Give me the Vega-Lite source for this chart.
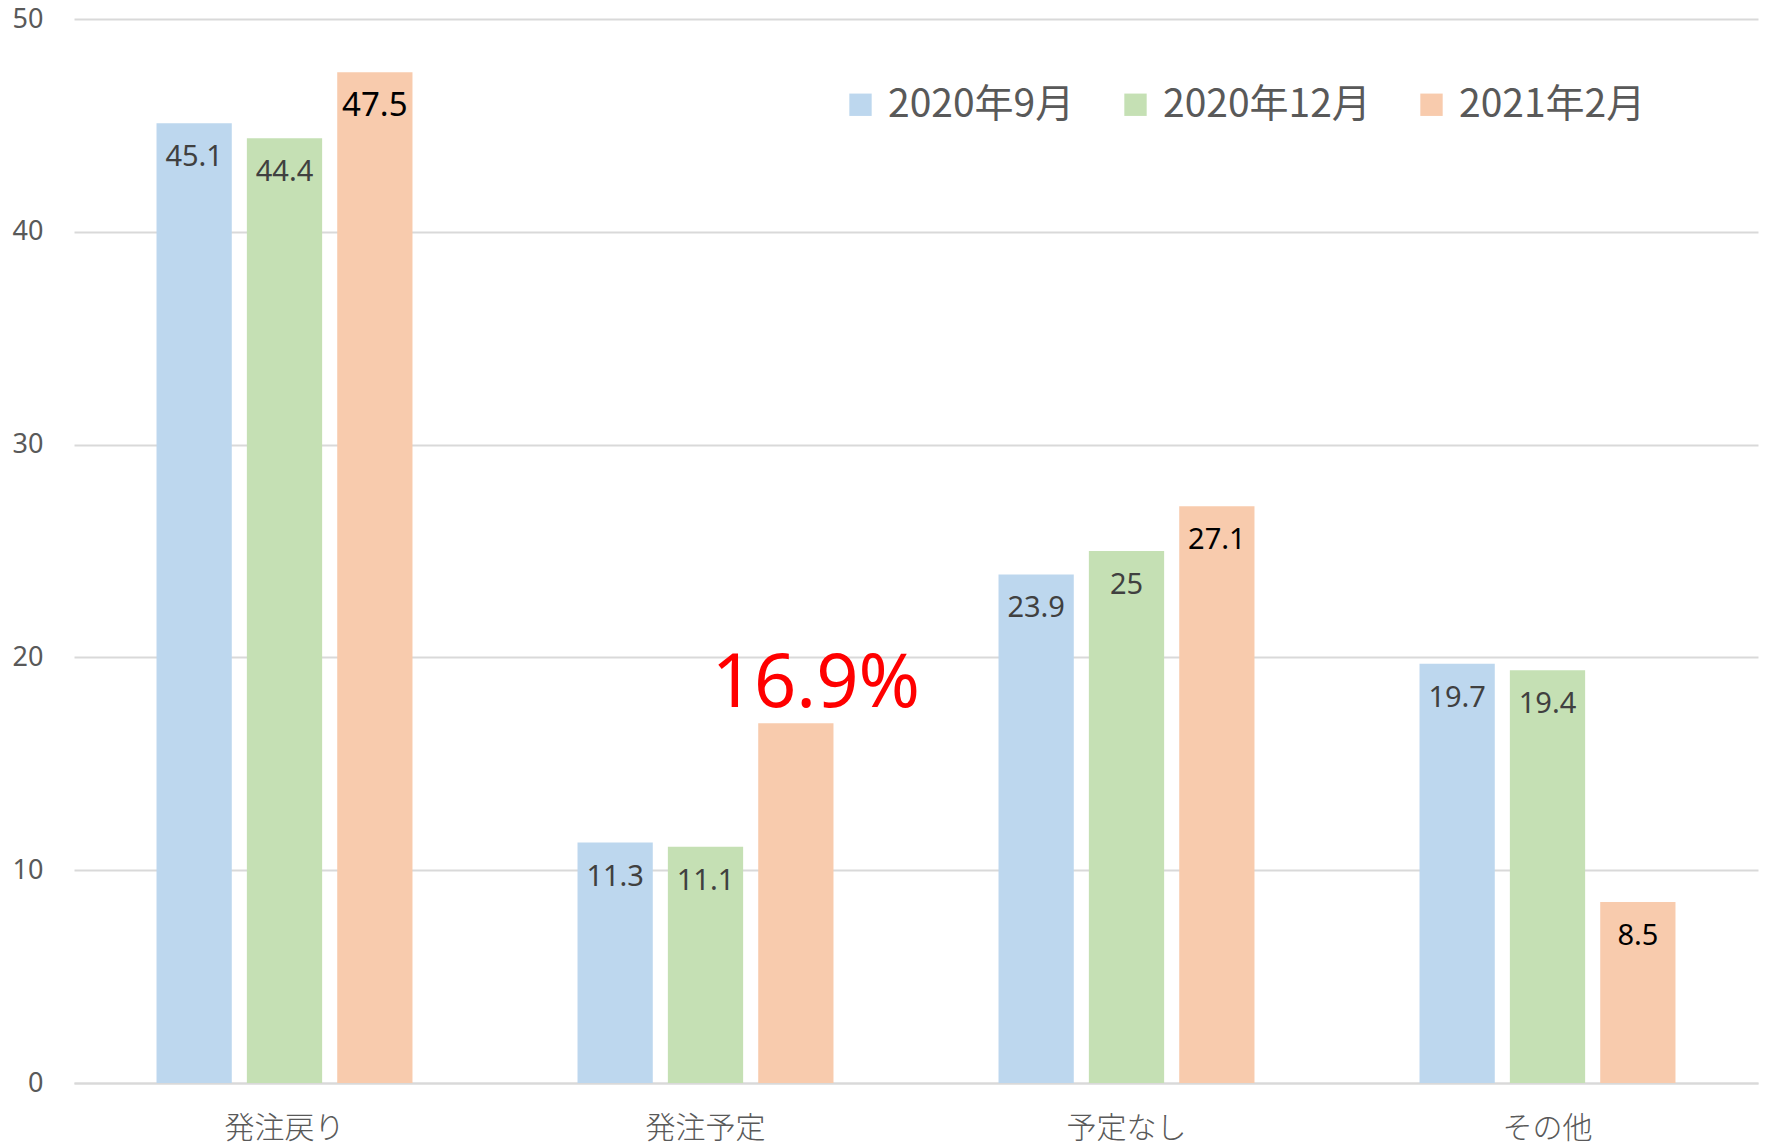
{
  "$schema": "https://vega.github.io/schema/vega-lite/v6.json",
  "width": 1684,
  "height": 1064,
  "autosize": {"type": "none"},
  "padding": {"left": 74, "top": 19, "right": 8, "bottom": 65},
  "background": "white",
  "config": {
    "view": {"stroke": null},
    "font": "Noto Sans"
  },
  "datasets": {
    "bars": [
      {"category": "発注戻り", "series": "2020年9月", "value": 45.1},
      {"category": "発注戻り", "series": "2020年12月", "value": 44.4},
      {"category": "発注戻り", "series": "2021年2月", "value": 47.5},
      {"category": "発注予定", "series": "2020年9月", "value": 11.3},
      {"category": "発注予定", "series": "2020年12月", "value": 11.1},
      {"category": "発注予定", "series": "2021年2月", "value": 16.9},
      {"category": "予定なし", "series": "2020年9月", "value": 23.9},
      {"category": "予定なし", "series": "2020年12月", "value": 25},
      {"category": "予定なし", "series": "2021年2月", "value": 27.1},
      {"category": "その他", "series": "2020年9月", "value": 19.7},
      {"category": "その他", "series": "2020年12月", "value": 19.4},
      {"category": "その他", "series": "2021年2月", "value": 8.5}
    ],
    "notes": [
      {"category": "発注予定", "series": "2021年2月", "value": 16.9, "label": "16.9%"}
    ]
  },
  "encoding": {
    "x": {
      "field": "category",
      "type": "nominal",
      "sort": ["発注戻り", "発注予定", "予定なし", "その他"],
      "scale": {"paddingInner": 0.392, "paddingOuter": 0.196},
      "axis": {
        "title": null,
        "labelAngle": 0,
        "labelFont": "Noto Sans CJK JP",
        "labelFontSize": 30,
        "labelFontWeight": 300,
        "labelColor": "#595959",
        "labelPadding": 30,
        "ticks": false,
        "domain": true,
        "domainColor": "#D9D9D9",
        "domainWidth": 2
      }
    },
    "xOffset": {
      "field": "series",
      "type": "nominal",
      "sort": ["2020年9月", "2020年12月", "2021年2月"],
      "scale": {"paddingInner": 0.167, "paddingOuter": 0}
    },
    "y": {
      "field": "value",
      "type": "quantitative",
      "scale": {"domain": [0, 50], "nice": false},
      "axis": {
        "title": null,
        "values": [0, 10, 20, 30, 40, 50],
        "grid": true,
        "gridColor": "#D9D9D9",
        "gridWidth": 2,
        "domain": false,
        "ticks": false,
        "labelFontSize": 27,
        "labelColor": "#595959",
        "labelPadding": 31
      }
    }
  },
  "layer": [
    {
      "data": {"name": "bars"},
      "mark": {"type": "bar"},
      "encoding": {
        "color": {
          "field": "series",
          "type": "nominal",
          "scale": {
            "domain": ["2020年9月", "2020年12月", "2021年2月"],
            "range": ["#BDD7EE", "#C5E0B4", "#F8CBAD"]
          },
          "legend": {
            "title": null,
            "orient": "none",
            "direction": "horizontal",
            "legendX": 767,
            "legendY": 66,
            "symbolType": "square",
            "symbolSize": 500,
            "symbolStrokeWidth": 0,
            "labelFont": "Noto Sans CJK JP",
            "labelFontSize": 39,
            "labelColor": "#595959",
            "labelOffset": 8,
            "labelLimit": 0,
            "columnPadding": 41
          }
        }
      }
    },
    {
      "data": {"name": "bars"},
      "transform": [{"filter": "!(datum.category === '発注予定' && datum.series === '2021年2月')"}],
      "mark": {"type": "text", "baseline": "middle", "dy": 34, "fontSize": 29},
      "encoding": {
        "text": {"field": "value", "type": "quantitative"},
        "color": {
          "condition": {"test": "datum.series === '2021年2月'", "value": "#000000"},
          "value": "#404040"
        },
        "size": {
          "condition": {"test": "datum.value === 47.5", "value": 33},
          "value": 29
        }
      }
    },
    {
      "data": {"name": "notes"},
      "mark": {"type": "text", "baseline": "alphabetic", "dy": -16, "dx": 20, "fontSize": 74, "color": "#FF0000"},
      "encoding": {
        "text": {"field": "label", "type": "nominal"}
      }
    }
  ]
}
